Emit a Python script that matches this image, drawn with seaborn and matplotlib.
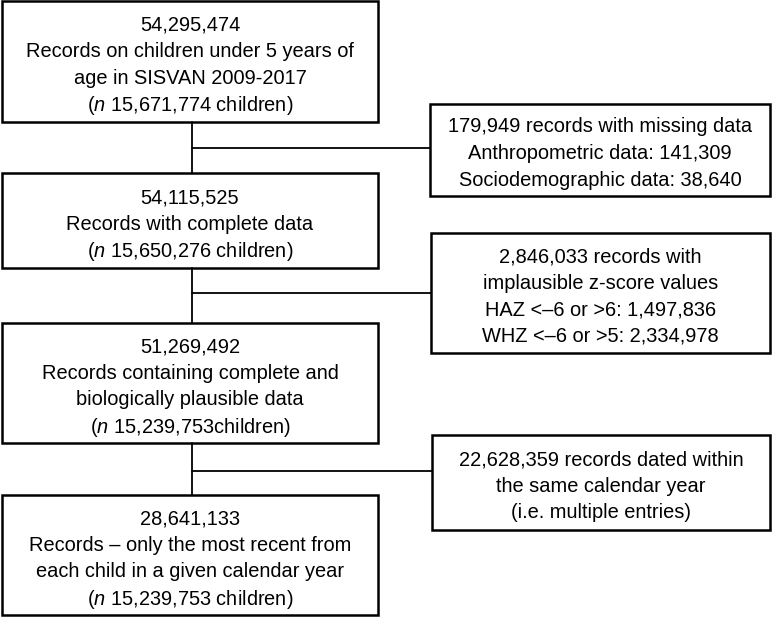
import matplotlib
matplotlib.use('Agg')
import matplotlib.pyplot as plt
from matplotlib.patches import Rectangle
import seaborn as sns

# Texte der Kästen (linke Spalte = Hauptfluss, rechte Spalte = Ausschlüsse)
main_boxes = [
    ['54,295,474',
     'Records on children under 5 years of',
     'age in SISVAN 2009-2017',
     r'($\mathit{n}$ 15,671,774 children)'],
    ['54,115,525',
     'Records with complete data',
     r'($\mathit{n}$ 15,650,276 children)'],
    ['51,269,492',
     'Records containing complete and',
     'biologically plausible data',
     r'($\mathit{n}$ 15,239,753children)'],
    ['28,641,133',
     'Records \u2013 only the most recent from',
     'each child in a given calendar year',
     r'($\mathit{n}$ 15,239,753 children)'],
]
excl_boxes = [
    ['179,949 records with missing data',
     'Anthropometric data: 141,309',
     'Sociodemographic data: 38,640'],
    ['2,846,033 records with',
     'implausible z-score values',
     'HAZ <\u20136 or >6: 1,497,836',
     'WHZ <\u20136 or >5: 2,334,978'],
    ['22,628,359 records dated within',
     'the same calendar year',
     '(i.e. multiple entries)'],
]

# Layout in Pixeln (x0, x1, y0, y1)
main_pos = [(2, 378, 1, 122), (2, 378, 173, 268), (2, 378, 323, 443), (2, 378, 495, 615)]
excl_pos = [(430, 770, 104, 196), (431, 770, 233, 353), (432, 770, 435, 530)]
branch_y = [148, 293, 471]
stem_x = 192

sns.set_theme(style='white')
plt.rcParams['font.family'] = ['Liberation Sans', 'DejaVu Sans']
plt.rcParams['mathtext.fontset'] = 'custom'
plt.rcParams['mathtext.rm'] = 'Liberation Sans'
plt.rcParams['mathtext.it'] = 'Liberation Sans:italic'

fig = plt.figure(figsize=(7.72, 6.17), dpi=100)
ax = fig.add_axes([0, 0, 1, 1])
ax.set_xlim(0, 772)
ax.set_ylim(617, 0)
ax.axis('off')


def draw_box(pos, lines, lw=1.8):
    x0, x1, y0, y1 = pos
    ax.add_patch(Rectangle((x0, y0), x1 - x0, y1 - y0, fill=False,
                           edgecolor='black', linewidth=lw))
    cx = (x0 + x1) / 2
    cy = (y0 + y1) / 2 + 1.5
    step = 26.5
    n = len(lines)
    for i, line in enumerate(lines):
        ax.text(cx, cy + (i - (n - 1) / 2) * step, line, ha='center',
                va='center_baseline', fontsize=14.4, color='black')


for pos, lines in zip(main_pos, main_boxes):
    draw_box(pos, lines)
for pos, lines in zip(excl_pos, excl_boxes):
    draw_box(pos, lines)

# Verbindungslinien
for i in range(3):
    ax.plot([stem_x, stem_x], [main_pos[i][3], main_pos[i + 1][2]], color='black', lw=1.3)
    ax.plot([stem_x, excl_pos[i][0]], [branch_y[i], branch_y[i]], color='black', lw=1.3)

fig.savefig('out.png', dpi=100)
